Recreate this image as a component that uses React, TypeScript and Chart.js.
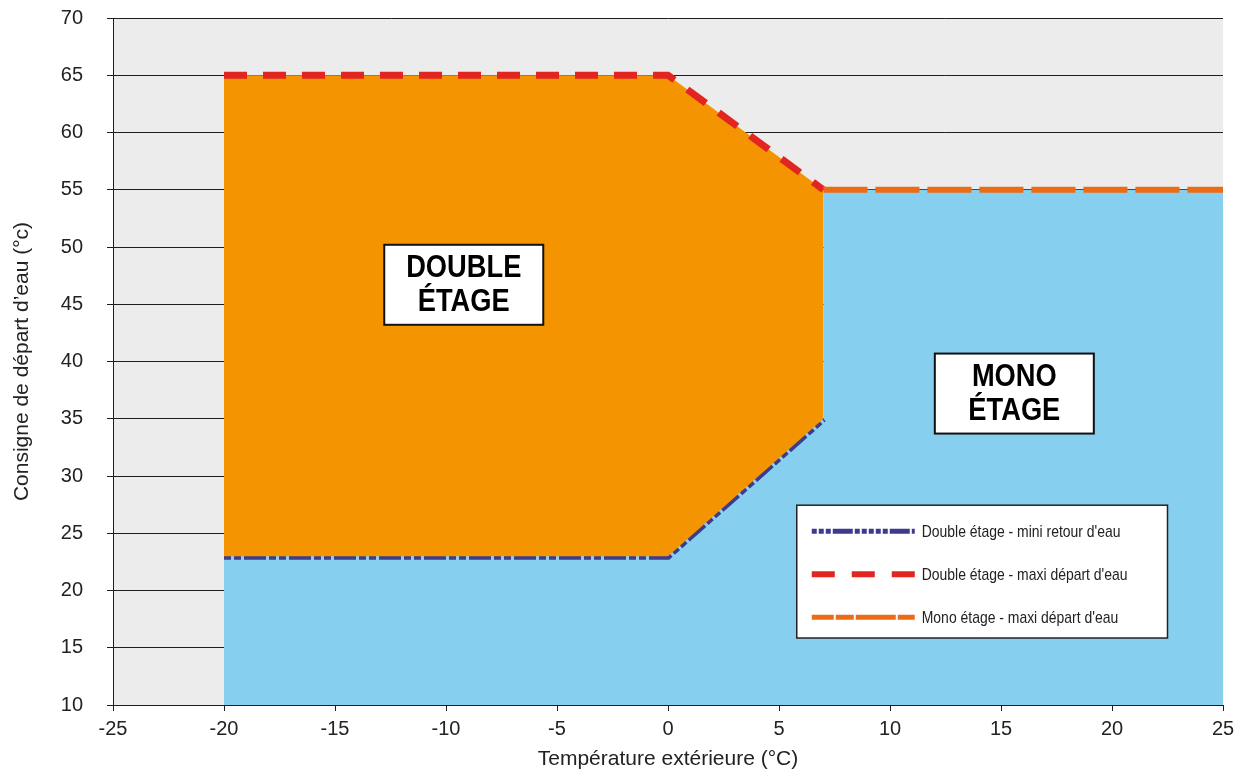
import React, { useEffect, useRef } from "react";
import { Chart, registerables } from "chart.js";

Chart.register(...registerables);

// ---- Data ----
const xTicks = [-25, -20, -15, -10, -5, 0, 5, 10, 15, 20, 25];
const yTicks = [10, 15, 20, 25, 30, 35, 40, 45, 50, 55, 60, 65, 70];

const doubleX = [-20, 0, 7];
const doubleMaxY = [65, 65, 55]; // Double étage - maxi départ d'eau
const doubleMinY = [23, 23, 35]; // Double étage - mini retour d'eau
const monoX = [7, 25];
const monoMaxY = [55, 55]; // Mono étage - maxi départ d'eau

const seriesLabels = [
  "Double étage - mini retour d'eau",
  "Double étage - maxi départ d'eau",
  "Mono étage - maxi départ d'eau",
];

const zoneLabels = [
  { lines: ["DOUBLE", "ÉTAGE"], x: -9.2, y: 46.7 },
  { lines: ["MONO", "ÉTAGE"], x: 15.6, y: 37.2 },
];

// ---- Styles ----
const C_BG = "#EBECEB";
const C_ORANGE_FILL = "#F39400";
const C_BLUE_FILL = "#87CFEF";
const C_RED = "#E32522";
const C_NAVY = "#3D3B8E";
const C_ORANGE_LINE = "#EC6B15";
const C_GRID = "#1e1e1e";
const C_TEXT = "#222222";

const DASH_NAVY = [7, 3, 7, 3, 22, 3];
const DASH_RED = [23, 16];
const DASH_ORANGE = [44, 8];

const pts = (xs: number[], ys: number[]) => xs.map((x, i) => ({ x, y: ys[i] }));

function condensedText(ctx: any, text: string, x: number, y: number, font: string, sx: number, align: string) {
  ctx.save();
  ctx.font = font;
  ctx.textBaseline = "middle";
  ctx.textAlign = align;
  ctx.translate(x, y);
  ctx.scale(sx, 1);
  ctx.fillText(text, 0, 0);
  ctx.restore();
}

const bgPlugin = {
  id: "plotBg",
  beforeDraw(chart: any) {
    const { ctx, chartArea } = chart;
    ctx.save();
    ctx.fillStyle = C_BG;
    ctx.fillRect(chartArea.left, chartArea.top, chartArea.right - chartArea.left, chartArea.bottom - chartArea.top);
    ctx.restore();
  },
};

const annotPlugin = {
  id: "annot",
  afterDraw(chart: any) {
    const { ctx } = chart;
    const xs = chart.scales.x;
    const ys = chart.scales.y;
    ctx.save();
    // zone label boxes
    zoneLabels.forEach((z) => {
      const cx = xs.getPixelForValue(z.x);
      const cy = ys.getPixelForValue(z.y);
      const w = 159;
      const h = 80;
      ctx.fillStyle = "#ffffff";
      ctx.fillRect(cx - w / 2, cy - h / 2, w, h);
      ctx.strokeStyle = "#111";
      ctx.lineWidth = 2;
      ctx.strokeRect(cx - w / 2, cy - h / 2, w, h);
      ctx.fillStyle = "#000";
      const f = "bold 31px 'Liberation Sans', Arial, sans-serif";
      condensedText(ctx, z.lines[0], cx, cy - 16, f, 0.88, "center");
      condensedText(ctx, z.lines[1], cx, cy + 18, f, 0.88, "center");
    });

    // legend
    const lx0 = xs.getPixelForValue(5.8);
    const lx1 = xs.getPixelForValue(22.5);
    const ly0 = ys.getPixelForValue(27.45);
    const ly1 = ys.getPixelForValue(15.85);
    ctx.fillStyle = "#ffffff";
    ctx.fillRect(lx0, ly0, lx1 - lx0, ly1 - ly0);
    ctx.strokeStyle = "#222";
    ctx.lineWidth = 1.5;
    ctx.strokeRect(lx0, ly0, lx1 - lx0, ly1 - ly0);
    const items = [
      { color: C_NAVY, dash: [5, 2, 5, 2, 5, 2, 20, 2, 5, 2, 5, 2], width: 5 },
      { color: C_RED, dash: [23, 17], width: 6 },
      { color: C_ORANGE_LINE, dash: [22, 2, 18, 2, 40, 2], width: 5 },
    ];
    items.forEach((it, i) => {
      const y = ly0 + 26 + i * 43;
      ctx.beginPath();
      ctx.setLineDash(it.dash);
      ctx.strokeStyle = it.color;
      ctx.lineWidth = it.width;
      ctx.moveTo(lx0 + 15, y);
      ctx.lineTo(lx0 + 118, y);
      ctx.stroke();
      ctx.setLineDash([]);
      ctx.fillStyle = C_TEXT;
      condensedText(ctx, seriesLabels[i], lx0 + 125, y + 1, "17px 'Liberation Sans', Arial, sans-serif", 0.82, "left");
    });
    ctx.restore();
  },
};

export default function App() {
  const ref = useRef<HTMLCanvasElement | null>(null);

  useEffect(() => {
    document.body.style.margin = "0";
    if (!ref.current) return;
    const chart = new Chart(ref.current, {
      type: "line",
      data: {
        datasets: [
          {
            label: seriesLabels[2],
            data: pts(monoX, monoMaxY),
            borderColor: C_ORANGE_LINE,
            borderWidth: 6,
            borderDash: DASH_ORANGE,
            pointRadius: 0,
            fill: false,
            borderCapStyle: "butt",
          },
          {
            label: seriesLabels[1],
            data: pts(doubleX, doubleMaxY),
            borderColor: C_RED,
            borderWidth: 7,
            borderDash: DASH_RED,
            pointRadius: 0,
            backgroundColor: C_ORANGE_FILL,
            fill: 2,
          },
          {
            label: seriesLabels[0],
            data: pts(doubleX, doubleMinY),
            borderColor: C_NAVY,
            borderWidth: 7,
            borderDash: DASH_NAVY,
            pointRadius: 0,
            fill: false,
          },
          {
            label: "zone mono",
            data: pts(doubleX.concat(monoX), doubleMinY.concat(monoMaxY)),
            borderColor: "rgba(0,0,0,0)",
            borderWidth: 0,
            pointRadius: 0,
            backgroundColor: C_BLUE_FILL,
            fill: "start",
          },
        ],
      },
      options: {
        animation: false,
        responsive: false,
        devicePixelRatio: 1,
        layout: { padding: { top: 18, right: 20, left: 0, bottom: 0 } },
        plugins: {
          legend: { display: false },
          tooltip: { enabled: false },
        },
        scales: {
          x: {
            type: "linear",
            min: -25,
            max: 25,
            z: 1,
            afterBuildTicks: (s: any) => {
              s.ticks = xTicks.map((v) => ({ value: v }));
            },
            afterFit: (s: any) => {
              s.height = 71;
              s.paddingLeft = 0;
              s.paddingRight = 0;
              s.paddingTop = 0;
              s.paddingBottom = 0;
            },
            grid: { drawOnChartArea: false, color: C_GRID, tickLength: 6, lineWidth: 1 },
            border: { color: C_GRID, width: 1 },
            ticks: {
              color: C_TEXT,
              padding: 6,
              font: { family: "'Liberation Sans', Arial, sans-serif", size: 20 },
              maxRotation: 0,
            },
            title: {
              display: true,
              text: "Température extérieure (°C)",
              color: C_TEXT,
              font: { family: "'Liberation Sans', Arial, sans-serif", size: 21 },
              padding: { top: 4 },
            },
          },
          y: {
            type: "linear",
            min: 10,
            max: 70,
            afterBuildTicks: (s: any) => {
              s.ticks = yTicks.map((v) => ({ value: v }));
            },
            afterFit: (s: any) => {
              s.width = 113;
              s.paddingTop = 0;
              s.paddingBottom = 0;
              s.paddingLeft = 0;
              s.paddingRight = 0;
            },
            grid: { color: C_GRID, tickLength: 6, lineWidth: 1 },
            border: { color: C_GRID, width: 1 },
            ticks: {
              color: C_TEXT,
              padding: 24,
              font: { family: "'Liberation Sans', Arial, sans-serif", size: 20 },
            },
            title: {
              display: true,
              text: "Consigne de départ d’eau (°c)",
              color: C_TEXT,
              font: { family: "'Liberation Sans', Arial, sans-serif", size: 21 },
              padding: { top: 10, bottom: 0 },
            },
          },
        },
      },
      plugins: [bgPlugin, annotPlugin],
    } as any);
    return () => chart.destroy();
  }, []);

  return (
    <div style={{ position: "absolute", left: 0, top: 0, width: 1243, height: 776, background: "#fff" }}>
      <canvas ref={ref} width={1243} height={776} style={{ display: "block" }} />
    </div>
  );
}
